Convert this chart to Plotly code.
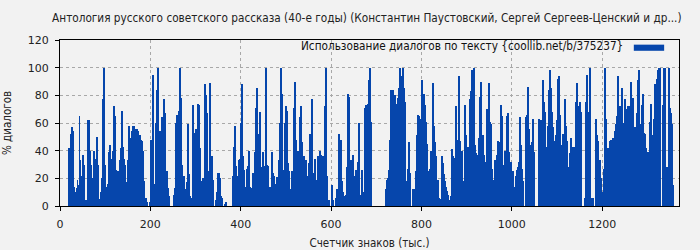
import plotly.graph_objects as go

# Character counter (thousands) of the first bar and the span each bar covers
start_k = 21.0
step_k = 2.216

# % dialogue per text segment left to right
dialog_pct = [
    42, 41, 52, 57, 54, 14, 10, 13, 19, 15, 65, 33, 22, 37, 30, 0, 4, 1, 62, 62,
    40, 30, 13, 20, 40, 24, 34, 50, 30, 5, 2, 10, 20, 77, 100, 30, 7, 14, 16, 39,
    44, 21, 34, 40, 72, 65, 26, 12, 25, 15, 33, 42, 69, 43, 34, 30, 17, 16, 33, 58,
    49, 23, 54, 58, 58,
    # 135
    55, 56, 56, 54, 40, 51, 48, 47, 40, 18, 0, 6, 3, 0, 0, 3, 48, 33, 95, 16,
    14, 60, 84, 100, 47, 54, 36, 64, 64, 77, 67, 25, 25, 13, 7, 0, 0, 0, 0, 8,
    13, 60, 66, 13, 69, 100, 78, 30, 22, 22, 12, 6, 17, 59, 23, 7, 4, 6, 73, 53,
    19, 56, 42, 74, 73, 42, 10, 18, 20, 20, 88, 80, 67, 25, 25,
    # 210
    89, 36, 36, 19, 0, 0, 4, 10, 24, 24, 20, 7, 6, 0, 0, 1, 3, 0, 0, 0,
    0, 0, 0, 22, 43, 58, 29, 22, 22, 33, 34, 60, 88, 36, 26, 7, 14, 27, 29, 40,
    14, 13, 12, 24, 22, 39, 71, 85, 52, 42, 68, 12, 28, 39, 20, 29, 100, 30, 29, 10,
    14, 14, 39, 24, 22, 16, 10, 21, 4, 33, 60, 100, 81, 26, 25,
    # 285
    60, 72, 69, 31, 25, 12, 9, 25, 20, 71, 90, 48, 19, 40, 29, 64, 72, 46, 34, 36,
    25, 33, 19, 22, 31, 52, 27, 77, 17, 24, 34, 12, 19, 36, 35, 40, 37, 30, 36, 30,
    72, 100, 22, 0, 4, 0, 0, 15, 4, 0, 0, 6, 12, 11, 52, 42, 48, 18, 10, 7,
    3, 8, 28, 81, 79, 30, 33, 30, 37, 22, 22, 26, 18, 32, 60,
    # 360
    8, 4, 26, 10, 3, 71, 73, 63, 74, 91, 100, 61, 0, 0, 0, 0, 0, 0, 0, 0,
    0, 0, 0, 0, 0, 0, 12, 19, 20, 26, 48, 84, 66, 84, 75, 80, 74, 64, 78, 85,
    100, 85, 94, 100, 85, 75, 18, 12, 27, 46, 24, 0, 0, 12, 12, 12, 25, 51, 66, 65,
    48, 63, 91, 77, 81, 73, 61, 45, 25, 22, 27, 40, 27, 89, 58,
    # 435
    46, 36, 6, 19, 6, 4, 5, 36, 31, 23, 18, 14, 11, 8, 4, 4, 7, 41, 36, 25,
    35, 72, 48, 46, 94, 47, 28, 40, 18, 16, 73, 51, 33, 43, 10, 77, 83, 98, 83, 100,
    44, 38, 37, 30, 49, 79, 90, 28, 51, 37, 32, 27, 70, 37, 89, 61, 59, 27, 19, 10,
    33, 30, 37, 47, 46, 46, 73, 65, 28, 30, 40, 40, 65, 67, 39,
    # 510
    20, 32, 15, 25, 10, 14, 22, 26, 28, 32, 64, 44, 27, 18, 0, 0, 64, 66, 86, 56,
    29, 44, 46, 63, 39, 0, 0, 0, 0, 63, 44, 62, 54, 91, 75, 68, 31, 43, 58, 84,
    98, 85, 68, 57, 47, 34, 51, 62, 92, 94, 66, 44, 34, 52, 48, 77, 58, 47, 28, 15,
    38, 49, 32, 43, 43, 6, 75, 89, 72, 54, 75, 68, 0, 0, 0,
    # 585
    6, 75, 95, 51, 68, 100, 0, 6, 6, 0, 0, 63, 51, 47, 14, 33, 20, 10, 3, 27,
    100, 63, 31, 42, 36, 47, 48, 32, 49, 49, 54, 59, 65, 94, 60,
    # 620
    72, 60, 85, 60, 49, 77, 43, 70, 72, 72, 68, 90, 36, 78, 57, 57, 54, 67, 91, 98,
    45, 59, 73, 81, 53, 52, 42, 39, 32, 39, 61, 74, 51, 32, 63, 88, 80, 92, 98, 100,
    100, 0, 0, 73, 100, 100, 9, 28, 9, 100, 71, 67, 59, 15,
]

x_ticks = [0, 200, 400, 600, 800, 1000, 1200]
y_ticks = [0, 20, 40, 60, 80, 100, 120]

counter_k = [start_k + i * step_k for i in range(len(dialog_pct))]

title_text = "Антология русского советского рассказа (40-е годы) (Константин Паустовский, Сергей Сергеев-Ценский и др...)"
legend_text = "Использование диалогов по тексту {coollib.net/b/375237}"
bar_color = "#0646AC"
cond_font = "DejaVu Sans Condensed, DejaVu Sans, sans-serif"
tick_font = "DejaVu Sans, sans-serif"

fig = go.Figure()
fig.add_trace(go.Bar(
    x=counter_k, y=dialog_pct, width=step_k,
    marker=dict(color=bar_color, line=dict(width=0)),
    name=legend_text, showlegend=False,
))

fig.update_layout(
    width=700, height=250,
    margin=dict(l=60, r=21, t=40, b=44),
    paper_bgcolor="#f2f2f2", plot_bgcolor="#f2f2f2",
    bargap=0,
    font=dict(family=tick_font, size=11, color="#222222"),
    title=dict(text=title_text, x=0.524, xanchor="center", y=0.928, yanchor="middle",
               font=dict(family=cond_font, size=11.7, color="#222222")),
)
axis_common = dict(
    showline=True, linecolor="black", linewidth=1, mirror=True,
    ticks="outside", ticklen=4, tickcolor="black",
    showgrid=True, gridcolor="#a8a8a8", griddash="3px,3px", gridwidth=1,
    zeroline=False, ticklabelstandoff=4, automargin=False,
    tickfont=dict(family=tick_font, size=11, color="#222222"),
)
fig.update_xaxes(range=[0, 1370], tickvals=x_ticks,
                 title=dict(text="Счетчик знаков (тыс.)",
                            font=dict(family=cond_font, size=11.5, color="#222222")),
                 **axis_common)
fig.update_yaxes(range=[0, 120], tickvals=y_ticks,
                 title=dict(text="% диалогов",
                            font=dict(family=cond_font, size=11.5, color="#222222")),
                 **axis_common)

# legend drawn as text + swatch at the top right of the plot area
fig.add_annotation(text=legend_text, xref="paper", yref="paper", x=0.913, y=0.962,
                   xanchor="right", yanchor="middle", showarrow=False,
                   font=dict(family=cond_font, size=11.7, color="#111111"))
fig.add_shape(type="rect", xref="paper", yref="paper", x0=0.927, x1=0.976,
              y0=0.935, y1=0.972, fillcolor=bar_color, line=dict(width=0))

fig.write_html("out.html")
